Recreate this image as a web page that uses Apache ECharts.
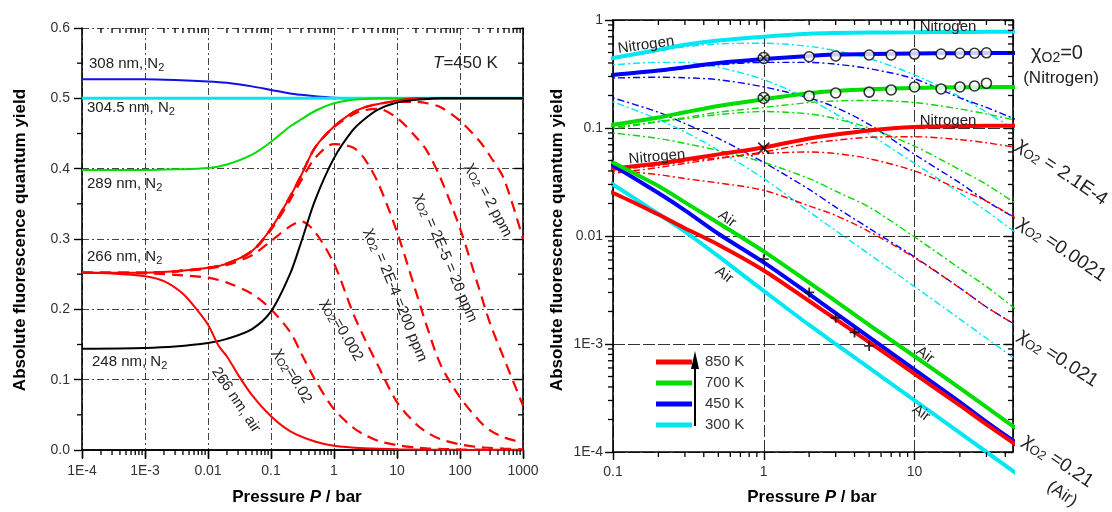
<!DOCTYPE html>
<html>
<head>
<meta charset="utf-8">
<script src="https://cdn.jsdelivr.net/npm/echarts@6/dist/echarts.min.js"></script>
<style>
html, body { margin: 0; padding: 0; background: #fff; }
#chart { width: 1112px; height: 512px; }
</style>
</head>
<body>
<div id="chart"></div>
<script>
// ---- left panel: T = 450 K, quantum yield vs pressure (linear y) ----
const leftXLabels = ['1E-4', '1E-3', '0.01', '0.1', '1', '10', '100', '1000'];
const pL = [1e-4, 1e-3, 3e-3, 0.01, 0.02, 0.05, 0.1, 0.2, 0.3, 0.5, 1, 2, 3, 5, 10, 20, 30, 50, 100, 200, 300, 500, 1000];
const n2_308 = [0.527, 0.527, 0.526, 0.524, 0.522, 0.517, 0.512, 0.507, 0.505, 0.503, 0.501, 0.5, 0.5, 0.5, 0.5, 0.5, 0.5, 0.5, 0.5, 0.5, 0.5, 0.5, 0.5];
const pFlat = [1e-4, 1000];
const n2_3045 = [0.5, 0.5];
const n2_289 = [0.398, 0.398, 0.399, 0.401, 0.406, 0.42, 0.438, 0.46, 0.47, 0.482, 0.493, 0.498, 0.499, 0.5, 0.5, 0.5, 0.5, 0.5, 0.5, 0.5, 0.5, 0.5, 0.5];
const n2_266 = [0.252, 0.252, 0.254, 0.259, 0.265, 0.283, 0.315, 0.36, 0.39, 0.43, 0.46, 0.48, 0.487, 0.492, 0.497, 0.5, 0.5, 0.5, 0.5, 0.5, 0.5, 0.5, 0.5];
const n2_248 = [0.144, 0.145, 0.147, 0.152, 0.158, 0.172, 0.197, 0.25, 0.295, 0.355, 0.415, 0.455, 0.47, 0.484, 0.494, 0.498, 0.499, 0.5, 0.5, 0.5, 0.5, 0.5, 0.5];
const pAir = [1e-4, 3e-4, 1e-3, 2e-3, 4e-3, 7e-3, 0.01, 0.015, 0.02, 0.03, 0.05, 0.1, 0.2, 0.5, 1, 3, 10, 100, 1000];
const air_266 = [0.252, 0.251, 0.247, 0.24, 0.222, 0.197, 0.178, 0.147, 0.133, 0.107, 0.078, 0.048, 0.027, 0.012, 0.006, 0.0025, 0.001, 0.0002, 0];
// 266 nm with O2 admixture (dashed)
const x02 = [0.252, 0.251, 0.249, 0.245, 0.238, 0.222, 0.2, 0.168, 0.138, 0.1, 0.058, 0.032, 0.022, 0.013, 0.007, 0.0035, 0.0024, 0.0015, 0.0007, 0.0004, 0.0002, 0.0001, 0.0001];
const x002 = [0.252, 0.252, 0.254, 0.258, 0.263, 0.277, 0.297, 0.318, 0.325, 0.31, 0.265, 0.195, 0.16, 0.12, 0.068, 0.037, 0.025, 0.015, 0.008, 0.004, 0.003, 0.002, 0.001];
const x2e4 = [0.252, 0.252, 0.254, 0.259, 0.265, 0.282, 0.313, 0.355, 0.383, 0.415, 0.435, 0.43, 0.415, 0.38, 0.31, 0.225, 0.175, 0.12, 0.075, 0.042, 0.028, 0.018, 0.01];
const x2e5 = [0.252, 0.252, 0.254, 0.259, 0.265, 0.283, 0.315, 0.36, 0.39, 0.43, 0.459, 0.477, 0.483, 0.485, 0.472, 0.445, 0.425, 0.385, 0.315, 0.23, 0.18, 0.13, 0.063];
const x2e6 = [0.252, 0.252, 0.254, 0.259, 0.265, 0.283, 0.315, 0.36, 0.39, 0.43, 0.46, 0.48, 0.487, 0.492, 0.495, 0.495, 0.493, 0.487, 0.468, 0.44, 0.418, 0.385, 0.3];

// ---- right panel: log-log, four temperatures ----
const rightXLabels = ['0.1', '1', '10'];
const rightYLabels = ['1E-4', '1E-3', '0.01', '0.1', '1'];
const temps = ['850 K', '700 K', '450 K', '300 K'];
const pR = [0.086, 0.1, 0.2, 0.3, 0.5, 1, 2, 3, 5, 10, 20, 30, 50];
const pRd = [0.086, 0.1, 0.2, 0.3, 0.5, 1, 2, 3, 5, 10, 20, 30, 47];
// nitrogen (chi = 0)
const n2_300 = [0.43, 0.445, 0.53, 0.59, 0.645, 0.7, 0.745, 0.757, 0.765, 0.77, 0.775, 0.777, 0.78];
const n2_450 = [0.3, 0.31, 0.34, 0.365, 0.4, 0.435, 0.465, 0.478, 0.485, 0.49, 0.493, 0.494, 0.495];
const n2_700 = [0.105, 0.107, 0.125, 0.14, 0.16, 0.185, 0.21, 0.22, 0.228, 0.235, 0.238, 0.239, 0.24];
const n2_850 = [0.041, 0.042, 0.047, 0.051, 0.057, 0.066, 0.08, 0.087, 0.095, 0.102, 0.104, 0.105, 0.105];
// air (chi = 0.21)
const air_300 = [0.034, 0.03, 0.016, 0.011, 0.0065, 0.0031, 0.0015, 0.001, 0.0006, 0.0003, 0.00015, 0.0001, 0.00006];
const air_450 = [0.05, 0.045, 0.025, 0.0173, 0.0105, 0.0057, 0.0029, 0.00193, 0.00116, 0.00058, 0.00029, 0.00019, 0.000115];
const air_700 = [0.054, 0.048, 0.029, 0.0205, 0.0132, 0.0072, 0.0037, 0.0025, 0.0015, 0.00077, 0.00039, 0.00026, 0.000156];
const air_850 = [0.026, 0.025, 0.0158, 0.0118, 0.0083, 0.0048, 0.0025, 0.0017, 0.00104, 0.00053, 0.00027, 0.00018, 0.00011];
// chi = 2.1E-4
const a_300 = [0.424, 0.438, 0.515, 0.565, 0.6, 0.61, 0.57, 0.52, 0.44, 0.31, 0.195, 0.14, 0.095];
const a_450 = [0.298, 0.307, 0.335, 0.357, 0.385, 0.405, 0.405, 0.39, 0.355, 0.285, 0.19, 0.155, 0.12];
const a_700 = [0.1, 0.1, 0.115, 0.125, 0.14, 0.155, 0.172, 0.178, 0.18, 0.172, 0.15, 0.135, 0.118];
const a_850 = [0.037, 0.038, 0.043, 0.047, 0.052, 0.06, 0.072, 0.077, 0.082, 0.083, 0.078, 0.073, 0.066];
// chi = 0.0021
const b_300 = [0.38, 0.385, 0.405, 0.405, 0.365, 0.28, 0.185, 0.135, 0.088, 0.047, 0.025, 0.017, 0.0107];
const b_450 = [0.285, 0.29, 0.295, 0.292, 0.28, 0.24, 0.19, 0.155, 0.108, 0.057, 0.031, 0.021, 0.0146];
const b_700 = [0.1, 0.102, 0.114, 0.122, 0.133, 0.142, 0.135, 0.122, 0.1, 0.068, 0.041, 0.03, 0.02];
const b_850 = [0.04, 0.041, 0.045, 0.049, 0.053, 0.058, 0.06, 0.058, 0.052, 0.04, 0.027, 0.021, 0.0146];
// chi = 0.021
const c_300 = [0.185, 0.175, 0.12, 0.092, 0.062, 0.034, 0.0168, 0.0112, 0.0068, 0.0034, 0.0017, 0.00113, 0.00072];
const c_450 = [0.2, 0.19, 0.14, 0.11, 0.08, 0.048, 0.027, 0.0185, 0.0118, 0.0064, 0.0033, 0.0022, 0.0015];
const c_700 = [0.092, 0.09, 0.08, 0.072, 0.062, 0.048, 0.034, 0.026, 0.0185, 0.0098, 0.005, 0.0034, 0.0021];
const c_850 = [0.04, 0.04, 0.037, 0.034, 0.031, 0.0265, 0.019, 0.0155, 0.011, 0.0063, 0.0033, 0.0022, 0.0015];
// measured points
const pCirc = [2, 3, 5, 7, 10, 15, 20, 25, 30];
const circ_450 = [0.457, 0.464, 0.474, 0.474, 0.484, 0.484, 0.492, 0.492, 0.497];
const circ_700 = [0.198, 0.211, 0.215, 0.225, 0.24, 0.23, 0.24, 0.245, 0.26];
const pOne = [1, 1];
const xcirc = [0.445, 0.19];
const cross_850 = [0.065];
const pPlus = [1, 2, 3, 4, 5];
const plus_air = [0.0061, 0.003, 0.00175, 0.00128, 0.00096];

const FONT = '"Liberation Sans", Arial, sans-serif';
const RED = '#ff0000', GREEN = '#00dd00', BLUE = '#0000ff', CYAN = '#00e6f2';
const INK = '#222';

function pairs(xs, ys) {
    return xs.map((x, i) => [x, ys[i]]);
}

function decadeFormatter(labels, minExp) {
    return function (v) {
        const e = Math.log10(v);
        const r = Math.round(e);
        if (Math.abs(e - r) > 1e-6) return '';
        return labels[r - minExp] || '';
    };
}

function logMinors(fromExp, toExp, maxV) {
    const out = [];
    for (let e = fromExp; e < toExp; e++) {
        for (let m = 2; m <= 9; m++) {
            const v = m * Math.pow(10, e);
            if (v < maxV) out.push(v);
        }
    }
    return out;
}

// minor ticks: outward on bottom/left, inward on top/right
function tickSeries(axisIdx, dir, values, lo, hi, len) {
    return {
        type: 'custom', xAxisIndex: axisIdx, yAxisIndex: axisIdx, silent: true, clip: false, z: 5,
        data: values.map(v => dir === 'x' ? [v, lo] : [lo, v]),
        renderItem: function (params, api) {
            const v = api.value(dir === 'x' ? 0 : 1);
            const a = api.coord(dir === 'x' ? [v, lo] : [lo, v]);
            const b = api.coord(dir === 'x' ? [v, hi] : [hi, v]);
            const st = { stroke: '#000', lineWidth: 1.3 };
            if (dir === 'x') {
                return { type: 'group', children: [
                    { type: 'line', shape: { x1: a[0], y1: a[1], x2: a[0], y2: a[1] + len }, style: st },
                    { type: 'line', shape: { x1: b[0], y1: b[1], x2: b[0], y2: b[1] + len }, style: st }
                ] };
            }
            return { type: 'group', children: [
                { type: 'line', shape: { x1: a[0] - len, y1: a[1], x2: a[0], y2: a[1] }, style: st },
                { type: 'line', shape: { x1: b[0] - len, y1: b[1], x2: b[0], y2: b[1] }, style: st }
            ] };
        }
    };
}

function richFor(size) {
    return {
        a: { fontSize: size, fontFamily: FONT, fill: INK },
        s: { fontSize: Math.round(size * 0.7), fontFamily: FONT, fill: INK, padding: [Math.round(size * 0.55), 0, 0, 0] },
        i: { fontSize: size, fontFamily: FONT, fill: INK, fontStyle: 'italic' },
        b: { fontSize: size, fontFamily: FONT, fill: '#000', fontWeight: 'bold' },
        bi: { fontSize: size, fontFamily: FONT, fill: '#000', fontWeight: 'bold', fontStyle: 'italic' }
    };
}

function txt(x, y, text, size, rot, align) {
    return {
        type: 'text', x: x, y: y, rotation: (rot || 0) * Math.PI / 180, z: 50, silent: true,
        style: { text: text, rich: richFor(size), fontSize: size, fontFamily: FONT, fill: INK,
                 align: align || 'center', verticalAlign: 'middle' }
    };
}

function line(name, xs, ys, color, width, dash, axisIdx, z) {
    return {
        name: name, type: 'line', xAxisIndex: axisIdx, yAxisIndex: axisIdx,
        data: pairs(xs, ys), showSymbol: false, smooth: 0.3,
        clip: false, silent: true, z: z || 2,
        lineStyle: { color: color, width: width, type: dash || 'solid' },
        itemStyle: { color: color }
    };
}

const gridLine = { show: true, lineStyle: { color: '#444', width: 1, type: [7, 3, 2, 3] } };
const axisLine = { show: true, lineStyle: { color: '#000', width: 1.6 } };
const labelStyle = { fontSize: 14, color: '#333', fontFamily: FONT };

const CHI = '{a|χ}{s|O2}';
const DASH_L = [11, 7];
const DOTDASH = [7, 3, 2, 3];

const option = {
    animation: false,
    backgroundColor: '#fff',
    grid: [
        { left: 82, top: 28, width: 441, height: 422 },
        { left: 613, top: 20, width: 400, height: 432 }
    ],
    xAxis: [
        { type: 'log', gridIndex: 0, min: 1e-4, max: 1000, axisLine: axisLine,
          axisTick: { length: 8, lineStyle: { color: '#000', width: 1.4 } },
          axisLabel: Object.assign({ margin: 14, formatter: decadeFormatter(leftXLabels, -4) }, labelStyle),
          splitLine: gridLine },
        { type: 'log', gridIndex: 0, position: 'top', min: 1e-4, max: 1000, axisLine: axisLine,
          axisTick: { inside: true, length: 9, lineStyle: { color: '#000', width: 1.4 } },
          axisLabel: { show: false }, splitLine: { show: false } },
        { type: 'log', gridIndex: 1, min: 0.1, max: 45, axisLine: axisLine,
          axisTick: { length: 8, lineStyle: { color: '#000', width: 1.4 } },
          axisLabel: Object.assign({ margin: 13, showMaxLabel: false, formatter: decadeFormatter(rightXLabels, -1) }, labelStyle),
          splitLine: { show: true, lineStyle: { color: '#333', width: 1, type: [12, 3] } } },
        { type: 'log', gridIndex: 1, position: 'top', min: 0.1, max: 45, axisLine: axisLine,
          axisTick: { inside: true, length: 9, lineStyle: { color: '#000', width: 1.4 } },
          axisLabel: { show: false }, splitLine: { show: false } }
    ],
    yAxis: [
        { type: 'value', gridIndex: 0, min: 0, max: 0.6, interval: 0.1, axisLine: axisLine,
          axisTick: { length: 8, lineStyle: { color: '#000', width: 1.4 } },
          axisLabel: Object.assign({ margin: 12, formatter: v => v.toFixed(1) }, labelStyle),
          splitLine: gridLine },
        { type: 'value', gridIndex: 0, position: 'right', min: 0, max: 0.6, interval: 0.1, axisLine: axisLine,
          axisTick: { inside: true, length: 9, lineStyle: { color: '#000', width: 1.4 } },
          axisLabel: { show: false }, splitLine: { show: false } },
        { type: 'log', gridIndex: 1, min: 1e-4, max: 1, axisLine: axisLine,
          axisTick: { length: 8, lineStyle: { color: '#000', width: 1.4 } },
          axisLabel: Object.assign({ margin: 10, formatter: decadeFormatter(rightYLabels, -4) }, labelStyle),
          splitLine: { show: true, lineStyle: { color: '#333', width: 1, type: [12, 3] } } },
        { type: 'log', gridIndex: 1, position: 'right', min: 1e-4, max: 1, axisLine: axisLine,
          axisTick: { inside: true, length: 9, lineStyle: { color: '#000', width: 1.4 } },
          axisLabel: { show: false }, splitLine: { show: false } }
    ],
    legend: {
        data: temps, orient: 'vertical', left: 651, top: 349, itemWidth: 36, itemHeight: 5, itemGap: 5,
        icon: 'rect', selectedMode: false,
        textStyle: { fontSize: 15, color: '#333', fontFamily: FONT, lineHeight: 16, padding: [0, 0, 0, 8] }
    },
    series: [
        tickSeries(0, 'x', logMinors(-4, 3, 1000), 0, 0.6, 5),
        tickSeries(0, 'y', [0.05, 0.15, 0.25, 0.35, 0.45, 0.55], 1e-4, 1000, 5),
        tickSeries(2, 'x', logMinors(-1, 2, 45), 1e-4, 1, 5),
        tickSeries(2, 'y', logMinors(-4, 0, 1), 0.1, 45, 5),

        // left panel
        line('x2e6', pL, x2e6, RED, 2.2, DASH_L, 0),
        line('x2e5', pL, x2e5, RED, 2.2, DASH_L, 0),
        line('x2e4', pL, x2e4, RED, 2.2, DASH_L, 0),
        line('x002', pL, x002, RED, 2.2, DASH_L, 0),
        line('x02', pL, x02, RED, 2.2, DASH_L, 0),
        line('308 nm', pL, n2_308, '#1010e8', 2, null, 0, 3),
        line('304.5 nm', pFlat, n2_3045, CYAN, 3, null, 0, 3),
        line('289 nm', pL, n2_289, GREEN, 2, null, 0, 3),
        line('266 nm N2', pL, n2_266, RED, 2, null, 0, 3),
        line('248 nm', pL, n2_248, '#000', 2, null, 0, 3),
        line('266 nm air', pAir, air_266, RED, 2, null, 0, 3),

        // right panel, dash-dot admixtures
        line('a300', pRd, a_300, CYAN, 1.4, DOTDASH, 2),
        line('b300', pRd, b_300, CYAN, 1.4, DOTDASH, 2),
        line('c300', pRd, c_300, CYAN, 1.4, DOTDASH, 2),
        line('a450', pRd, a_450, BLUE, 1.4, DOTDASH, 2),
        line('b450', pRd, b_450, BLUE, 1.4, DOTDASH, 2),
        line('c450', pRd, c_450, BLUE, 1.4, DOTDASH, 2),
        line('a700', pRd, a_700, GREEN, 1.4, DOTDASH, 2),
        line('b700', pRd, b_700, GREEN, 1.4, DOTDASH, 2),
        line('c700', pRd, c_700, GREEN, 1.4, DOTDASH, 2),
        line('a850', pRd, a_850, RED, 1.4, DOTDASH, 2),
        line('b850', pRd, b_850, RED, 1.4, DOTDASH, 2),
        line('c850', pRd, c_850, RED, 1.4, DOTDASH, 2),
        // right panel, nitrogen and air
        line('300 K', pR, n2_300, CYAN, 4, null, 2, 3),
        line('450 K', pR, n2_450, BLUE, 4, null, 2, 3),
        line('700 K', pR, n2_700, GREEN, 4, null, 2, 3),
        line('850 K', pR, n2_850, RED, 4, null, 2, 3),
        line('air300', pR, air_300, CYAN, 4, null, 2, 3),
        line('air450', pR, air_450, BLUE, 4, null, 2, 3),
        line('air700', pR, air_700, GREEN, 4, null, 2, 3),
        line('air850', pR, air_850, RED, 4, null, 2, 3),

        { name: 'circles 450', type: 'scatter', xAxisIndex: 2, yAxisIndex: 2, z: 6, silent: true,
          data: pairs(pCirc, circ_450), symbol: 'circle', symbolSize: 10,
          itemStyle: { color: '#fff', borderColor: '#000', borderWidth: 1.6 } },
        { name: 'circles 700', type: 'scatter', xAxisIndex: 2, yAxisIndex: 2, z: 6, silent: true,
          data: pairs(pCirc, circ_700), symbol: 'circle', symbolSize: 10,
          itemStyle: { color: '#fff', borderColor: '#000', borderWidth: 1.6 } },
        { name: 'crossed', type: 'scatter', xAxisIndex: 2, yAxisIndex: 2, z: 6, silent: true,
          data: pairs(pOne, xcirc), symbol: 'path://M0,10 A10,10 0 1,1 20,10 A10,10 0 1,1 0,10 Z M3,3 L17,17 M17,3 L3,17',
          symbolSize: 11, symbolKeepAspect: true,
          itemStyle: { color: 'rgba(255,255,255,0.6)', borderColor: '#000', borderWidth: 1.5 } },
        { name: 'cross', type: 'scatter', xAxisIndex: 2, yAxisIndex: 2, z: 6, silent: true,
          data: pairs([1], cross_850), symbol: 'path://M0,0 L10,10 M10,0 L0,10', symbolSize: 11,
          itemStyle: { color: 'rgba(0,0,0,0)', borderColor: '#000', borderWidth: 1.8 } },
        { name: 'plus', type: 'scatter', xAxisIndex: 2, yAxisIndex: 2, z: 6, silent: true,
          data: pairs(pPlus, plus_air), symbol: 'path://M5,0 L5,10 M0,5 L10,5', symbolSize: 10,
          itemStyle: { color: 'rgba(0,0,0,0)', borderColor: '#000', borderWidth: 1.8 } }
    ],
    graphic: [
        // axis titles
        txt(20, 240, '{b|Absolute fluorescence quantum yield}', 17, 90),
        txt(297, 497, '{b|Pressure }{bi|P}{b| / bar}', 17, 0),
        txt(557, 240, '{b|Absolute fluorescence quantum yield}', 17, 90),
        txt(812, 497, '{b|Pressure }{bi|P}{b| / bar}', 17, 0),

        // left panel annotations
        txt(89, 64, '{a|308 nm, N}{s|2}', 15, 0, 'left'),
        txt(87, 108, '{a|304.5 nm, N}{s|2}', 15, 0, 'left'),
        txt(87, 184, '{a|289 nm, N}{s|2}', 15, 0, 'left'),
        txt(87, 257, '{a|266 nm, N}{s|2}', 15, 0, 'left'),
        txt(92, 362, '{a|248 nm, N}{s|2}', 15, 0, 'left'),
        txt(433, 63, '{i|T}{a|=450 K}', 17, 0, 'left'),
        txt(236, 400, '{a|266 nm, air}', 15, -56),
        txt(293, 376, CHI + '{a|=0.02}', 15, -60),
        txt(342, 330, CHI + '{a|=0.002}', 15, -60),
        txt(396, 295, CHI + '{a| = 2E-4 =200 ppm}', 15, -68),
        txt(446, 258, CHI + '{a| = 2E-5 = 20 ppm}', 15, -67),
        txt(489, 200, CHI + '{a| = 2 ppm}', 15, -62),

        // right panel annotations
        txt(646, 45, '{a|Nitrogen}', 15, 8),
        txt(657, 157, '{a|Nitrogen}', 15, 5),
        txt(948, 27, '{a|Nitrogen}', 15, 0),
        txt(948, 121, '{a|Nitrogen}', 15, 0),
        txt(727, 219, '{a|Air}', 15, -36),
        txt(724, 275, '{a|Air}', 15, -36),
        txt(925, 355, '{a|Air}', 15, -36),
        txt(921, 413, '{a|Air}', 15, -36),
        txt(1057, 53, CHI + '{a|=0}', 20, 0),
        txt(1061, 78, '{a|(Nitrogen)}', 17, 0),
        txt(1062, 172, CHI + '{a| = 2.1E-4}', 19, -34),
        txt(1062, 249, CHI + '{a| =0.0021}', 19, -34),
        txt(1058, 358, CHI + '{a| =0.021}', 19, -33),
        txt(1058, 461, CHI + '{a| =0.21}', 19, -34),
        txt(1062, 494, '{a|(Air)}', 17, -34),

        // legend arrow
        { type: 'line', silent: true, z: 50, shape: { x1: 695, y1: 426, x2: 695, y2: 366 },
          style: { stroke: '#000', lineWidth: 2 } },
        { type: 'polygon', silent: true, z: 50, shape: { points: [[691, 369], [699, 369], [695, 351]] },
          style: { fill: '#000' } }
    ]
};

const chart = echarts.init(document.getElementById('chart'));
chart.setOption(option);
</script>
</body>
</html>
